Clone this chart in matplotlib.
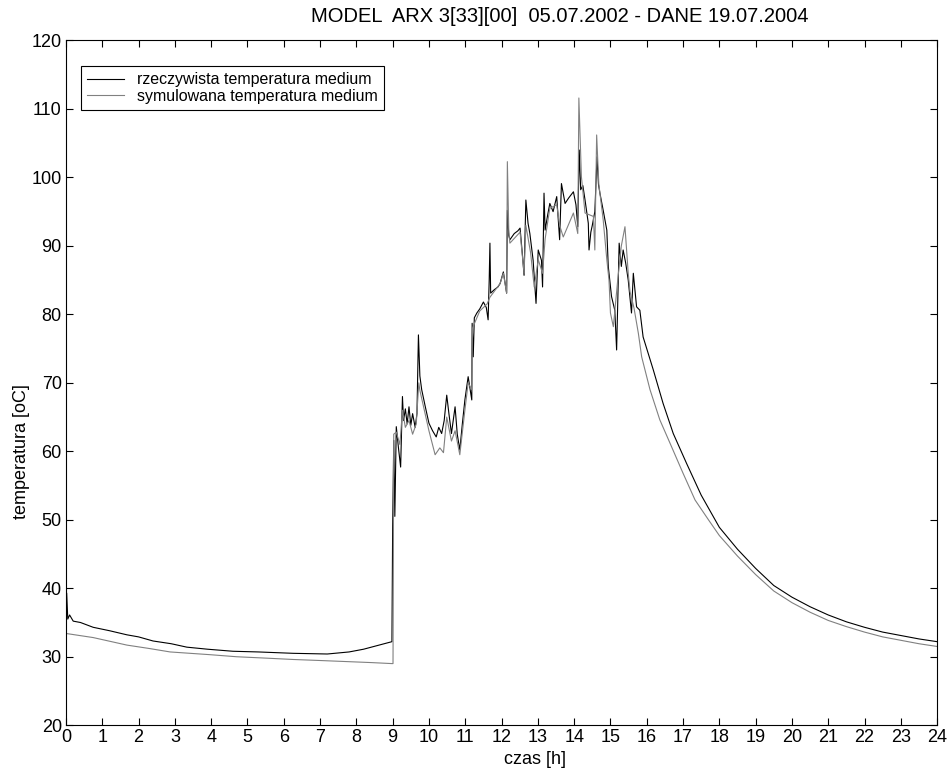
import matplotlib
matplotlib.use("Agg")
import matplotlib.pyplot as plt

plt.rcParams['font.family'] = ['Liberation Sans', 'DejaVu Sans']

# rzeczywista temperatura medium (pomiar)
t_real = [0.0, 0.02, 0.05, 0.1, 0.2, 0.4, 0.75, 1.2, 1.68, 2.0, 2.4, 2.9, 3.33, 3.9,
          4.6, 5.3, 6.26, 7.2, 7.8, 8.2, 8.55, 8.98,
          9.0, 9.03, 9.06, 9.1, 9.16, 9.22, 9.27, 9.3, 9.35, 9.4, 9.45, 9.5, 9.55,
          9.62, 9.67, 9.71, 9.75, 9.8, 9.9, 10.0, 10.1, 10.2, 10.27, 10.35, 10.42,
          10.49, 10.55, 10.62, 10.67, 10.72, 10.78, 10.85, 10.92, 10.99, 11.08,
          11.18, 11.19, 11.22, 11.25, 11.32, 11.4, 11.5, 11.58, 11.63, 11.66, 11.68,
          11.7, 11.8, 11.9, 11.96, 12.05, 12.14, 12.16, 12.2, 12.23, 12.35, 12.45,
          12.51, 12.58, 12.62, 12.67, 12.73, 12.78, 12.87, 12.95, 13.01, 13.1,
          13.13, 13.17, 13.2, 13.27, 13.33, 13.42, 13.52, 13.6, 13.65, 13.75,
          13.85, 13.98, 14.05, 14.1, 14.14, 14.18, 14.24, 14.3, 14.39, 14.41,
          14.46, 14.5, 14.57, 14.63, 14.67, 14.71, 14.8, 14.9, 14.94, 15.03, 15.12,
          15.17, 15.24, 15.3, 15.35, 15.42, 15.49, 15.58, 15.63, 15.72, 15.81,
          15.9, 16.18, 16.45, 16.73, 17.1, 17.5, 18.0, 18.5, 19.0, 19.5, 20.0,
          20.5, 21.0, 21.5, 22.0, 22.5, 23.0, 23.5, 24.0]
v_real = [36.5, 39.3, 35.5, 36.1, 35.2, 35.0, 34.3, 33.8, 33.2, 32.9, 32.3, 31.9, 31.4, 31.1,
          30.8, 30.7, 30.5, 30.4, 30.7, 31.1, 31.6, 32.2,
          48.9, 61.6, 50.5, 63.6, 60.5, 57.7, 68.0, 64.5, 66.2, 64.0, 66.5, 63.8, 65.5,
          63.5, 65.5, 77.0, 71.0, 69.0, 66.5, 64.1, 63.0, 62.1, 63.5, 62.6, 64.5,
          68.2, 65.5, 62.6, 64.5, 66.5, 62.5, 60.2, 64.0, 67.5, 70.9,
          67.5, 78.7, 73.8, 79.5, 80.2, 80.8, 81.8, 81.0, 79.2, 85.0, 90.4,
          83.1, 83.6, 84.0, 84.5, 86.2, 83.1, 95.2, 91.5, 90.9, 91.8, 92.2,
          92.6, 88.4, 85.7, 96.7, 93.3, 91.8, 87.9, 81.6, 89.4, 87.9,
          84.0, 97.7, 92.3, 94.5, 96.2, 95.0, 97.2, 90.9, 99.1, 96.2,
          97.0, 97.9, 96.0, 92.8, 104.0, 98.2, 98.8, 96.7, 93.3, 89.4,
          92.0, 93.0, 95.0, 103.0, 99.0, 97.7, 95.2, 92.3, 87.0, 82.6, 80.6,
          74.8, 90.4, 87.0, 89.4, 87.5, 85.0, 80.2, 86.0, 81.1, 80.6,
          76.7, 71.9, 67.0, 62.6, 58.2, 53.6, 48.9, 45.7, 42.9, 40.4, 38.7,
          37.3, 36.1, 35.1, 34.3, 33.6, 33.1, 32.6, 32.2]

# symulowana temperatura medium (model ARX)
t_sim = [0.0, 0.75, 1.68, 2.3, 2.87, 3.97, 4.7, 5.5, 6.26, 7.0, 7.7, 8.4, 8.98,
         9.01, 9.03, 9.1, 9.2, 9.27, 9.35, 9.45, 9.55, 9.65, 9.72, 9.75, 10.0,
         10.17, 10.3, 10.4, 10.49, 10.62, 10.72, 10.85, 10.99, 11.08, 11.18, 11.2,
         11.4, 11.6, 11.68, 11.96, 12.05, 12.14, 12.16, 12.2, 12.23, 12.51, 12.62,
         12.67, 12.8, 12.9, 13.01, 13.13, 13.2, 13.33, 13.52, 13.6, 13.7, 13.98,
         14.1, 14.13, 14.2, 14.3, 14.53, 14.57, 14.62, 14.68, 14.8, 14.9, 14.96,
         15.0, 15.08, 15.2, 15.3, 15.4, 15.49, 15.54, 15.65, 15.77, 15.86,
         16.09, 16.36, 16.64, 17.0, 17.33, 17.7, 18.0, 18.5, 19.0, 19.5, 20.0,
         20.5, 21.0, 21.5, 22.0, 22.5, 23.0, 23.5, 24.0]
v_sim = [33.4, 32.8, 31.7, 31.2, 30.7, 30.3, 30.0, 29.8, 29.6, 29.45, 29.3, 29.15, 29.0,
         29.0, 62.5, 62.8, 61.0, 66.0, 63.5, 64.5, 62.5, 64.0, 70.0, 68.9, 63.0,
         59.5, 60.5, 59.8, 65.0, 61.5, 63.0, 59.5, 66.0, 70.0, 69.0, 78.0,
         80.5, 81.5, 82.5, 84.5, 86.0, 83.1, 102.3, 92.0, 90.4, 92.0, 86.0,
         93.0, 89.0, 84.0, 88.0, 86.0, 91.0, 95.5, 96.0, 93.0, 91.3, 94.8,
         91.8, 111.6, 100.1, 94.8, 94.3, 89.4, 106.2, 99.0, 93.8, 88.0, 85.0,
         80.2, 78.2, 85.0, 90.0, 92.8, 86.0, 83.3, 80.9, 77.2, 73.8,
         69.0, 64.6, 61.2, 56.8, 52.9, 50.0, 47.7, 44.7, 42.0, 39.6, 37.9,
         36.5, 35.3, 34.4, 33.6, 32.9, 32.4, 31.9, 31.5]

x_ticks = list(range(0, 25))
y_ticks = list(range(20, 121, 10))

fig = plt.figure(figsize=(9.49, 7.72), dpi=100)
ax = fig.add_axes([0.0695, 0.0606, 0.918, 0.887])

ax.plot(t_real, v_real, color="black", lw=0.8, label="rzeczywista temperatura medium")
ax.plot(t_sim, v_sim, color="0.5", lw=0.8, label="symulowana temperatura medium")

ax.set_xlim(0, 24)
ax.set_ylim(20, 120)
ax.set_xticks(x_ticks)
ax.set_yticks(y_ticks)
ax.tick_params(direction="in", top=True, right=True, length=5, width=0.8,
               labelsize=13, pad=3)
for s in ax.spines.values():
    s.set_linewidth(0.8)

# tytul i opisy osi sa przesuniete wzgledem srodka osi (jak w oryginale)
ax.set_title("MODEL  ARX 3[33][00]  05.07.2002 - DANE 19.07.2004", fontsize=14.5,
             x=0.567, pad=13)
ax.set_xlabel("czas [h]", fontsize=13, labelpad=-1)
ax.xaxis.set_label_coords(0.538, -0.038)
ax.set_ylabel("temperatura [oC]", fontsize=13, labelpad=2)
ax.yaxis.set_label_coords(-0.041, 0.40)

leg = ax.legend(loc="upper left", bbox_to_anchor=(0.017, 0.963), borderaxespad=0,
                fontsize=11.5, fancybox=False, edgecolor="black", framealpha=1,
                handlelength=2.3, handletextpad=0.8, borderpad=0.4, labelspacing=0.1)
leg.get_frame().set_linewidth(0.8)

fig.savefig("out.png", dpi=100)
